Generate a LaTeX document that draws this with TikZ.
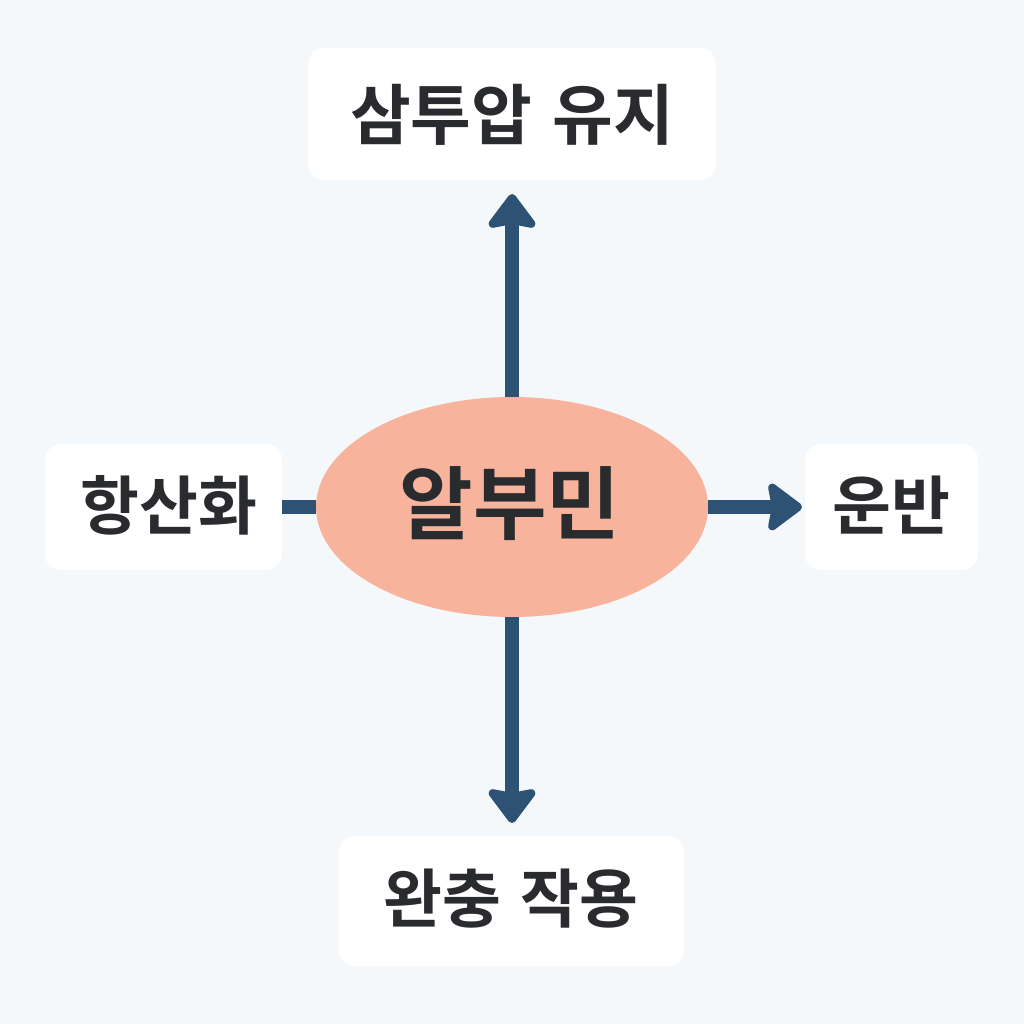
\documentclass[tikz,border=0pt]{standalone}
\usepackage{fontspec}
\newfontfamily\kr{Noto Sans CJK KR Bold}
\usetikzlibrary{arrows.meta,shapes.geometric}
\definecolor{bg}{HTML}{F4F8FB}
\definecolor{salmon}{HTML}{F8B39C}
\definecolor{arrowc}{HTML}{2D5274}
\definecolor{txt}{HTML}{2A2B2E}
\tikzset{
  box/.style={fill=white, rounded corners=16pt, inner sep=0pt},
  lab/.style={text=txt, font=\kr\fontsize{#1}{#1}\selectfont},
  conn/.style={draw=arrowc, line width=14pt},
  arr/.style={conn, -{Stealth[length=38pt, width=56pt, inset=5pt, round]}},
}
\begin{document}
\begin{tikzpicture}[x=1pt,y=-1pt]
\fill[bg] (0,0) rectangle (1024,1024);
\useasboundingbox (0,0) rectangle (1024,1024);
% boxes
\fill[box] (308,48) rectangle (716,180);
\fill[box] (45,444) rectangle (282,570);
\fill[box] (805,444) rectangle (978,570);
\fill[box] (339,836) rectangle (684,966);
\coordinate (topb) at (512,194);
\coordinate (leftb) at (282,507);
\coordinate (rightb) at (802,507);
\coordinate (botb) at (512,823);
% ellipse
\node[ellipse, fill=salmon, minimum width=392pt, minimum height=220pt, inner sep=0pt] (alb) at (512,507) {};
% connectors
\draw[arr] (alb.north) -- (topb);
\draw[conn] (leftb) -- (alb.west);
\draw[arr] (alb.east) -- (rightb);
\draw[arr] (alb.south) -- (botb);
% texts
\node[lab=66] (t1) at (512,115) {삼투압\hspace{20pt}유지};
\node[lab=80] (t2) at (510,504) {알부민};
\node[lab=64] (t3) at (169,505) {항산화};
\node[lab=64] (t4) at (891,505) {운반};
\node[lab=64] (t5) at (511,899) {완충\hspace{20pt}작용};
\end{tikzpicture}
\end{document}
